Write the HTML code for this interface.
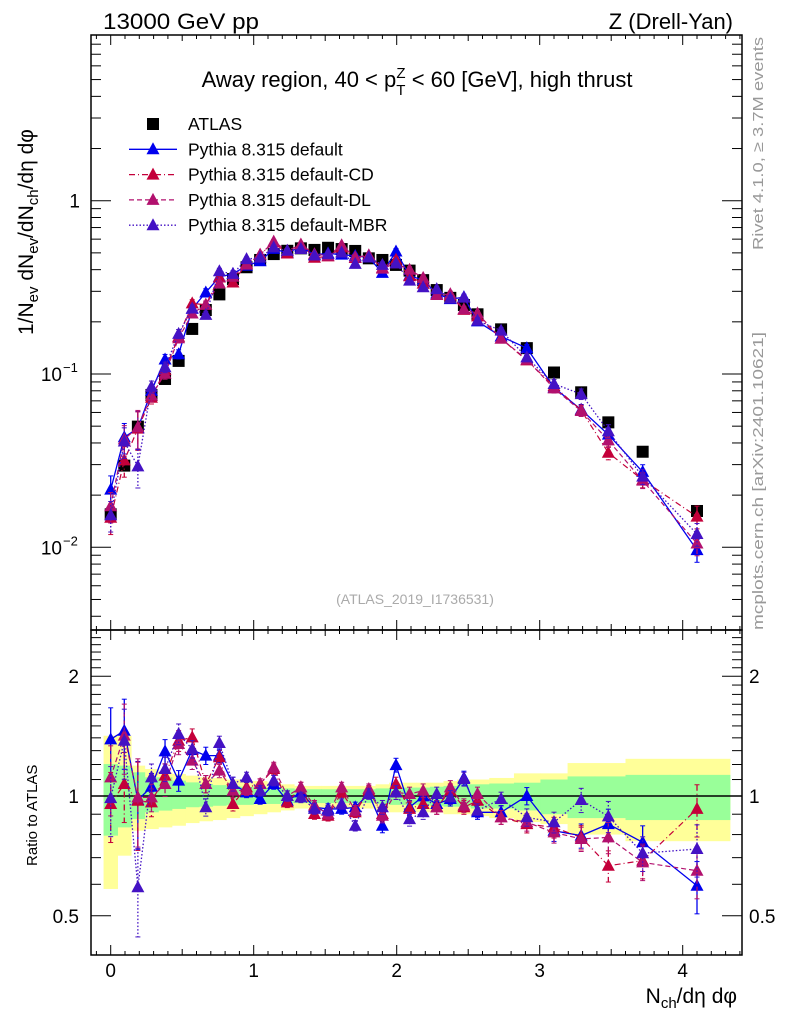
<!DOCTYPE html>
<html><head><meta charset="utf-8"><style>
body{margin:0;background:#fff;}
svg{display:block;font-family:"Liberation Sans",Arial,sans-serif;}
</style></head><body>
<svg id="chart" width="786" height="1024" viewBox="0 0 786 1024" xmlns="http://www.w3.org/2000/svg">
<text x="103" y="29" font-size="22" textLength="156" lengthAdjust="spacingAndGlyphs">13000 GeV pp</text>
<text x="733" y="29" font-size="22" text-anchor="end">Z (Drell-Yan)</text>
<text x="417" y="87" font-size="22" text-anchor="middle">Away region, 40 &lt; p<tspan font-size="15" dy="8">T</tspan><tspan font-size="15" dx="-9" dy="-17">Z</tspan><tspan dy="9"> &lt; 60 [GeV], high thrust</tspan></text>
<text transform="translate(763,250) rotate(-90)" font-size="15" fill="#999" textLength="213" lengthAdjust="spacingAndGlyphs">Rivet 4.1.0, ≥ 3.7M events</text>
<text transform="translate(763,630) rotate(-90)" font-size="15" fill="#999" textLength="298" lengthAdjust="spacingAndGlyphs">mcplots.cern.ch [arXiv:2401.10621]</text>
<text x="415" y="604" font-size="14" fill="#aaa" text-anchor="middle">(ATLAS_2019_I1736531)</text>
<text transform="translate(33,335) rotate(-90)" font-size="21">1/N<tspan font-size="15" dy="5">ev</tspan><tspan dy="-5"> dN</tspan><tspan font-size="15" dy="5">ev</tspan><tspan dy="-5">/dN</tspan><tspan font-size="15" dy="5">ch</tspan><tspan dy="-5">/dη dφ</tspan></text>
<text transform="translate(37,866) rotate(-90)" font-size="15">Ratio to ATLAS</text>
<text x="737" y="1003" font-size="21" text-anchor="end">N<tspan font-size="15" dy="5">ch</tspan><tspan dy="-5">/dη dφ</tspan></text>
<g id="bands"></g>
<g id="axes"></g>
<g id="series"></g>
<g id="legend"></g>
</svg>
<script>
const xVals = [0,0.095,0.19,0.285,0.38,0.475,0.57,0.665,0.76,0.855,0.95,1.045,1.14,1.235,1.33,1.425,1.52,1.615,1.71,1.805,1.9,1.995,2.09,2.185,2.28,2.375,2.47,2.565,2.73,2.91,3.1,3.29,3.48,3.72,4.1];
const atlasVals = [0.0155,0.0296,0.0497,0.0757,0.0936,0.119,0.182,0.234,0.288,0.353,0.413,0.455,0.492,0.514,0.531,0.52,0.535,0.526,0.513,0.465,0.455,0.426,0.395,0.348,0.305,0.275,0.25,0.221,0.181,0.141,0.102,0.0784,0.0526,0.0356,0.0162];
const ratioDefault = [1.388,1.459,0.977,1.055,1.295,1.093,1.305,1.263,1.263,1.072,1.021,0.983,1.072,0.973,1.021,0.937,0.928,0.928,0.937,1.012,0.842,1.196,0.937,0.998,0.955,0.983,1.110,0.910,0.910,1.0,0.818,0.795,0.850,0.765,0.595];
const ratioCD = [0.955,1.072,0.973,0.964,1.125,1.377,1.404,1.072,1.251,0.955,1.051,1.072,1.169,0.964,1.051,0.901,0.892,1.021,0.910,1.031,0.901,1.072,0.928,0.955,0.937,1.031,0.937,0.973,0.884,0.850,0.834,0.787,0.668,0.688,0.928];
const ratioDL = [1.114,1.418,0.992,0.992,1.072,1.351,1.227,1.072,1.158,1.031,1.035,1.072,1.180,1.0,1.051,0.946,0.901,1.051,0.919,1.041,0.892,1.021,1.012,1.031,0.937,1.051,0.946,1.012,0.884,0.859,0.810,0.780,0.787,0.681,0.649];
const ratioMBR = [0.988,1.377,0.590,1.114,1.169,1.431,1.312,0.937,1.359,1.072,1.114,1.031,1.093,1.0,0.992,0.928,0.919,0.955,0.842,1.012,0.937,1.021,0.875,0.910,1.012,0.992,1.103,0.919,0.983,0.884,0.859,0.977,0.889,0.718,0.736];
const mcErr = [0.2,0.2,0.25,0.08,0.07,0.06,0.05,0.05,0.04,0.04,0.03,0.03,0.03,0.03,0.03,0.03,0.03,0.03,0.03,0.03,0.04,0.04,0.04,0.04,0.04,0.04,0.04,0.04,0.04,0.05,0.06,0.07,0.09,0.1,0.15];
const greenUp = [1.203,1.192,1.147,1.114,1.114,1.093,1.082,1.072,1.065,1.06,1.055,1.05,1.05,1.045,1.04,1.04,1.04,1.04,1.04,1.04,1.045,1.05,1.05,1.05,1.055,1.06,1.07,1.07,1.075,1.08,1.10,1.12,1.12,1.13,1.13];
const greenDn = [0.795,0.834,0.875,0.910,0.919,0.928,0.937,0.940,0.945,0.95,0.95,0.955,0.955,0.96,0.96,0.96,0.96,0.96,0.96,0.96,0.955,0.95,0.95,0.95,0.945,0.94,0.94,0.93,0.93,0.92,0.90,0.88,0.88,0.87,0.87];
const yellowUp = [1.417,1.417,1.192,1.169,1.147,1.136,1.125,1.114,1.11,1.10,1.09,1.09,1.08,1.07,1.06,1.06,1.06,1.06,1.06,1.06,1.07,1.08,1.08,1.08,1.08,1.09,1.10,1.10,1.11,1.14,1.14,1.21,1.21,1.24,1.24];
const yellowDn = [0.584,0.708,0.818,0.826,0.834,0.842,0.855,0.864,0.87,0.88,0.89,0.90,0.91,0.92,0.93,0.93,0.93,0.93,0.93,0.93,0.92,0.91,0.91,0.91,0.91,0.90,0.90,0.89,0.88,0.86,0.85,0.80,0.80,0.77,0.77];
const xTickLabels = ["0","1","2","3","4"];
const ratioTickLabels = ["0.5","1","2"];

const NS="http://www.w3.org/2000/svg";
const X0=91,X1=742,MT=35,MB=630,RT=630,RB=955;
function xs(v){return 110.7+v*143;}
function ym(v){return 200.7-173.3*Math.log10(v);}
function yr(r){return 796-398*Math.log10(r);}
function mk(tag,attrs,parent){const e=document.createElementNS(NS,tag);for(const k in attrs)e.setAttribute(k,attrs[k]);parent.appendChild(e);return e;}
const axes=document.getElementById('axes'),bands=document.getElementById('bands'),series=document.getElementById('series'),legend=document.getElementById('legend');

function edges(i){const l=i===0?xVals[0]-0.05:(xVals[i-1]+xVals[i])/2;const r=i===xVals.length-1?xVals[i]+0.23:(xVals[i]+xVals[i+1])/2;return [l,r];}
for(let i=0;i<xVals.length;i++){const [l,r]=edges(i);
 const yb=mk('rect',{x:xs(l),y:yr(yellowUp[i]),width:xs(r)-xs(l)+0.5,height:yr(yellowDn[i])-yr(yellowUp[i]),fill:'#ffff99'},bands);
 
 
}
for(let i=0;i<xVals.length;i++){const [l,r]=edges(i);
 const gb=mk('rect',{x:xs(l),y:yr(greenUp[i]),width:xs(r)-xs(l)+0.5,height:yr(greenDn[i])-yr(greenUp[i]),fill:'#99ff99'},bands);
 
 
}
const one=mk('line',{x1:X0,x2:X1,y1:yr(1),y2:yr(1),stroke:'#000','stroke-width':1.5},bands);



const f1=mk('rect',{x:X0,y:MT,width:X1-X0,height:MB-MT,fill:'none',stroke:'#000','stroke-width':1.5},axes);


const f2=mk('rect',{x:X0,y:RT,width:X1-X0,height:RB-RT,fill:'none',stroke:'#000','stroke-width':1.5},axes);


for(let k=-1;k<=45;k++){const v=k/10;const x=xs(v);if(x<X0+1||x>X1-1)continue;
 const L=k%10===0?10:(k%5===0?6:4);
 [[MB,-1],[MT,1],[RB,-1],[RT,1]].forEach(([y,d])=>{mk('line',{x1:x,x2:x,y1:y,y2:y+d*L,stroke:'#000','stroke-width':1},axes);});
}
xTickLabels.forEach((t,i)=>{const e=mk('text',{x:xs(+t),y:977,'font-size':19,'text-anchor':'middle'},axes);e.textContent=t;
 
 });
for(let d=-3;d<=0;d++){for(let m=1;m<=9;m++){const v=m*Math.pow(10,d);const y=ym(v);if(y<MT+1||y>MB-1)continue;const L=m===1?20:10;
 mk('line',{x1:X0,x2:X0+L,y1:y,y2:y,stroke:'#000'},axes);mk('line',{x1:X1,x2:X1-L,y1:y,y2:y,stroke:'#000'},axes);}}
const yl=[[1,'1',''],[0.1,'10','−1'],[0.01,'10','−2']];
yl.forEach(([v,b,s])=>{const e=mk('text',{x:s?62:80,y:ym(v)+7,'font-size':19,'text-anchor':'end'},axes);e.textContent=b;
 
 
 if(s){const t=mk('text',{x:63,y:ym(v)-2,'font-size':13},axes);t.textContent=s;}});
for(let k=3;k<=26;k++){const v=k/10;const y=yr(v);if(y<RT+1||y>RB-1)continue;const L=(k===5||k===10||k===20)?20:10;
 mk('line',{x1:X0,x2:X0+L,y1:y,y2:y,stroke:'#000'},axes);mk('line',{x1:X1,x2:X1-L,y1:y,y2:y,stroke:'#000'},axes);}
ratioTickLabels.forEach(t=>{const y=yr(+t)+7;
 const a=mk('text',{x:79,y:y,'font-size':19,'text-anchor':'end'},axes);a.textContent=t;
 
 
 const b=mk('text',{x:749,y:y,'font-size':19},axes);b.textContent=t;
 
 });

const defs=[
 {name:'default',r:ratioDefault,c:'#0000ee',dash:'',w:1.3},
 {name:'cd',r:ratioCD,c:'#c4003a',dash:'6,3,1,3',w:1.2},
 {name:'dl',r:ratioDL,c:'#b2106e',dash:'5,3',w:1.2},
 {name:'mbr',r:ratioMBR,c:'#4412c4',dash:'1.5,2',w:1.3}];
function tri(x,y,c,g){return mk('path',{d:`M${x},${y-7}L${x+6.5},${y+5}L${x-6.5},${y+5}Z`,fill:c},g);}
const ga=mk('g',{},series);


xVals.forEach((x,i)=>{const r=mk('rect',{x:xs(x)-6,y:ym(atlasVals[i])-6,width:12,height:12,fill:'#000'},ga);
 
 });
defs.forEach(s=>{
 const g=mk('g',{},series);
 
 
 const mainPts=xVals.map((x,i)=>[xs(x),ym(atlasVals[i]*s.r[i])]);
 const ratPts=xVals.map((x,i)=>[xs(x),yr(s.r[i])]);
 [mainPts,ratPts].forEach((pts,p)=>{
  mk('polyline',{points:pts.map(q=>q.join(',')).join(' '),fill:'none',stroke:s.c,'stroke-width':s.w,'stroke-dasharray':s.dash},g);
  pts.forEach((q,i)=>{const v=p===0?atlasVals[i]*s.r[i]:s.r[i];const f=p===0?ym:yr;
   const yh=f(v*(1+mcErr[i])),yl2=f(v*(1-mcErr[i]));
   mk('line',{x1:q[0],x2:q[0],y1:yh,y2:yl2,stroke:s.c,'stroke-width':1.3,'stroke-dasharray':s.dash},g);
   mk('line',{x1:q[0]-2.5,x2:q[0]+2.5,y1:yh,y2:yh,stroke:s.c},g);mk('line',{x1:q[0]-2.5,x2:q[0]+2.5,y1:yl2,y2:yl2,stroke:s.c},g);
   const t=tri(q[0],q[1],s.c,g);
   
   
  });
 });
});

const items=[['ATLAS',null],['Pythia 8.315 default',defs[0]],['Pythia 8.315 default-CD',defs[1]],['Pythia 8.315 default-DL',defs[2]],['Pythia 8.315 default-MBR',defs[3]]];
items.forEach(([lab,s],i)=>{const y=124+i*25.3;
 const g=mk('g',{},legend);
 
 
 if(!s){mk('rect',{x:147,y:y-6,width:12,height:12,fill:'#000'},g);}
 else{mk('line',{x1:129,x2:177,y1:y,y2:y,stroke:s.c,'stroke-width':s.w,'stroke-dasharray':s.dash},g);tri(153,y,s.c,g);}
 const t=mk('text',{x:188,y:y+6,'font-size':17.5},g);t.textContent=lab;});
</script>
</body></html>
